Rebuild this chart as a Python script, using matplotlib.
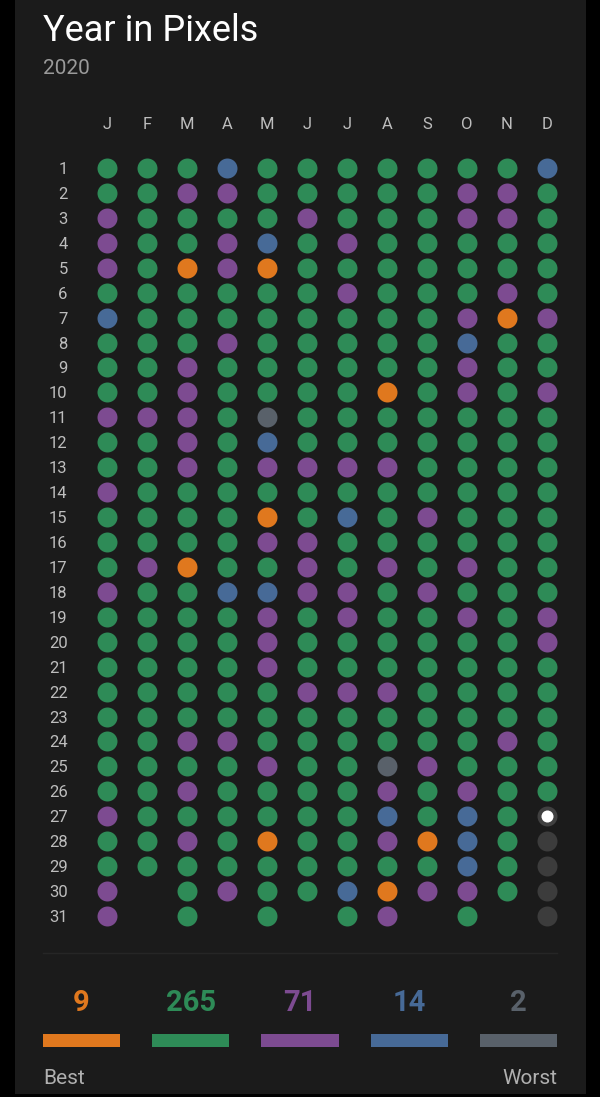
import numpy as np
import matplotlib
matplotlib.use("Agg")
import matplotlib.pyplot as plt
from matplotlib.patches import Rectangle
from matplotlib.lines import Line2D

# mood per day, one string per month
# O = best ... W = worst, T = today, - = not yet
jan = "GGPPPGBGGGPGGPGGGPGGGGGGGGPGGPP"
feb = "GGGGGGGGGGPGGGGGPGGGGGGGGGGGG"
mar = "GPGGOGGGPPPPPGGGOGGGGGGPGPGPGGG"
apr = "BPGPPGGPGGGGGGGGGBGGGGGPGGGGGP"
may = "GGGBOGGGGGWBPGOPGBPPPGGGPGGOGGG"
jun = "GGPGGGGGGGGGPGGPPPGGGPGGGGGGGG"
jul = "GGGPGPGGGGGGPGBGGPPGGPGGGGGGGBG"
aug = "GGGGGGGGGOGGPGGGPGGGGPGGWPBPGOP"
sep = "GGGGGGGGGGGGGGPGGPGGGGGGPGGOGP"
oct_ = "GPPGGGPBPPGGGGGGPGPGGGGGGPBBBPG"
nov = "GPPGGPOGGGGGGGGGGGGGGGGPGGGGGG"
dec = "BGGGGGPGGPGGGGGGGGPPGGGGGGT----"

months = [jan, feb, mar, apr, may, jun, jul, aug, sep, oct_, nov, dec]
month_labels = ["J", "F", "M", "A", "M", "J", "J", "A", "S", "O", "N", "D"]
moods = ["O", "G", "P", "B", "W"]

BG = "#1b1b1b"
colors = {"O": "#e0781e", "G": "#2e8b57", "P": "#7d4b91",
          "B": "#476a97", "W": "#59616a", "-": "#3c3c3c"}
FONT = "Roboto"

W, H = 600, 1097
fig = plt.figure(figsize=(W / 100, H / 100), dpi=100, facecolor="black")
fig.add_artist(Rectangle((15 / W, 1 - 1094 / H), (586 - 15) / W, 1094 / H,
                         transform=fig.transFigure, facecolor=BG,
                         edgecolor="none", zorder=0))

fig.text(43 / W, 1 - 31 / H, "Year in Pixels", color="white", fontsize=26,
         family=FONT, va="center", ha="left")
fig.text(43 / W, 1 - 68 / H, "2020", color="#9a9a9a", fontsize=15,
         family=FONT, va="center", ha="left")

# dot grid
ax = fig.add_axes([87 / W, 1 - 928.5 / H, 480 / W, 773 / H])
ax.set_facecolor("none")
for m, days in enumerate(months):
    for d, c in enumerate(days):
        x, y = m + 1, d + 1
        if c == "T":
            ax.scatter(x, y, s=207, color="#404040", linewidths=0)
            ax.scatter(x, y, s=75, color="white", linewidths=0)
        else:
            ax.scatter(x, y, s=207, color=colors[c], linewidths=0)
ax.set_xlim(0.5, 12.5)
ax.set_ylim(31.5, 0.5)
ax.set_xticks(range(1, 13))
ax.set_xticklabels(month_labels)
ax.set_yticks(range(1, 32))
ax.set_yticklabels([str(i) for i in range(1, 32)])
ax.xaxis.tick_top()
ax.tick_params(axis="x", length=0, pad=17, labelsize=12, labelcolor="#bdbdbd")
ax.tick_params(axis="y", length=0, pad=14, labelsize=12, labelcolor="#bdbdbd")
for lab in ax.get_xticklabels() + ax.get_yticklabels():
    lab.set_family(FONT)
for s in ax.spines.values():
    s.set_visible(False)

fig.add_artist(Line2D([43 / W, 557 / W], [1 - 953 / H, 1 - 953 / H],
                      color="#262626", lw=1, transform=fig.transFigure))

# counts strip
counts = [sum(days.count(k) for days in months) for k in moods]
ax2 = fig.add_axes([43 / W, 1 - 1092 / H, 514 / W, (1092 - 975) / H])
ax2.set_facecolor("none")
ax2.set_xlim(-0.352, 4.352)
ax2.set_ylim(1092, 975)
xs = np.arange(len(moods))
ax2.bar(xs, 13, bottom=1034, width=0.705,
        color=[colors[k] for k in moods])
for i, k in enumerate(moods):
    ax2.text(i, 1003, str(counts[i]), color=colors[k], fontsize=21,
             fontweight="bold", family=FONT, ha="center", va="center")
ax2.text(-0.352, 1078, "Best", color="#b0b0b0", fontsize=15, family=FONT,
         ha="left", va="center")
ax2.text(4.352, 1078, "Worst", color="#b0b0b0", fontsize=15, family=FONT,
         ha="right", va="center")
ax2.axis("off")

fig.savefig("out.png", dpi=100, facecolor="black")
